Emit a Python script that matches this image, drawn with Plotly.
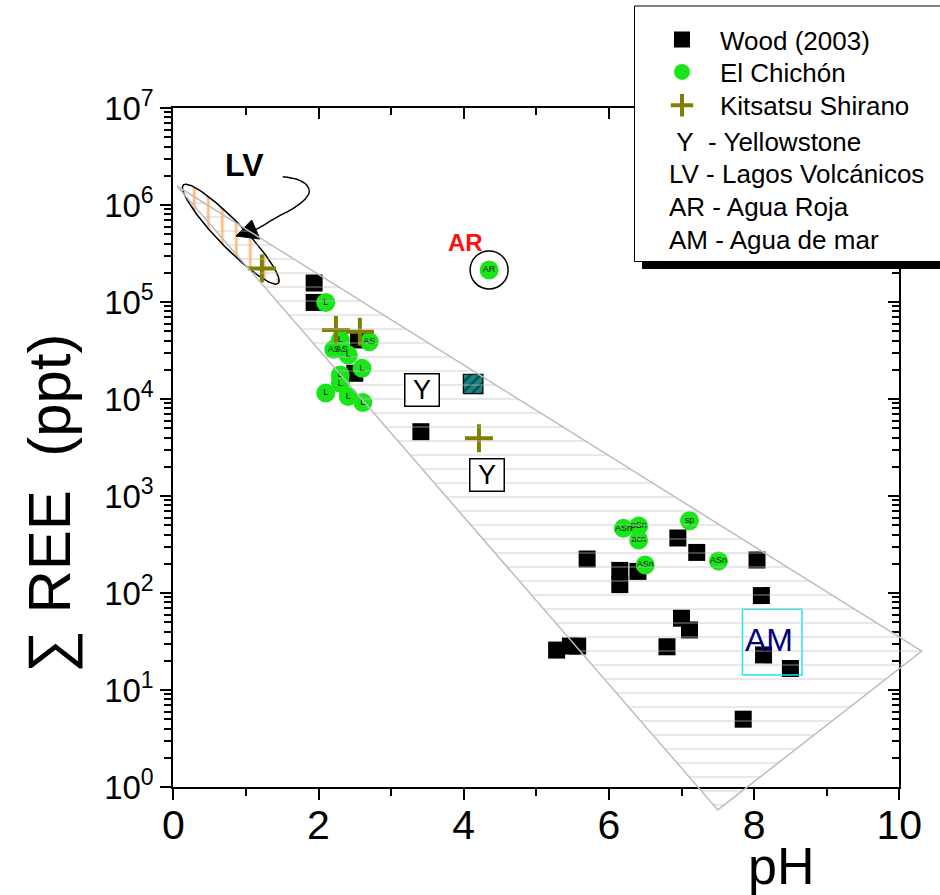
import numpy as np
import plotly.graph_objects as go

W, H = 940, 895
FONT = "Liberation Sans, Arial, sans-serif"

# ---------------- data ----------------
wood_ph = [1.94, 1.94, 2.55, 2.50, 3.41, 5.70, 6.15, 6.15, 6.40, 6.95, 7.21,
           8.04, 8.10, 7.00, 7.11, 6.80, 5.28, 5.47, 5.57, 8.13, 8.50, 7.85]
wood_ree = [1.57e5, 9.9e4, 4.06e4, 1.84e4, 4.6e3, 224, 171, 122, 167, 369, 262,
            219, 94, 55, 41.6, 27.9, 25.8, 28.4, 28.4, 23, 16.7, 5.0]

chichon_ph = [2.10, 2.30, 2.21, 2.32, 2.41, 2.70, 2.60, 2.30, 2.30, 2.10, 2.41, 2.61,
              6.20, 6.41, 6.41, 7.11, 6.50, 7.51, 4.35]
chichon_ree = [9.9e4, 4.06e4, 3.25e4, 3.25e4, 2.84e4, 3.9e4, 2.07e4, 1.77e4, 1.45e4,
               1.15e4, 1.06e4, 9.2e3, 464, 491, 352, 556, 194, 214, 2.14e5]
chichon_lbl = ["L", "L", "AS", "AS", "L", "AS", "L", "L", "L", "L", "L", "L",
               "ASn", "pSn", "acn", "sp", "ASn", "ASn", "AR"]

kitsatsu_ph = [1.22, 2.24, 2.57, 4.21]
kitsatsu_ree = [2.22e5, 5.15e4, 4.94e4, 3.94e3]

yellowstone_ph = [3.43, 4.32]
yellowstone_ree = [1.24e4, 1645]

agua_roja_ph = [4.35]
agua_roja_ree = [2.14e5]

teal_ph = [4.13]
teal_ree = [1.43e4]

# hatched field (pH, REE) vertices
field_ph = [0.05, 10.31, 7.50]
field_ree = [1.57e6, 25.2, 0.58]

# Lagos Volcanicos ellipse: centre (pH, log10 REE) and half-axis vectors
lv_center = (0.792, 5.699)
lv_major = (0.654, -0.507)
lv_minor = (0.128, 0.092)

# LV arrow curve (pH, log10 REE) and its head
lv_curve_ph = [1.507, 1.700, 1.837, 1.873, 1.814, 1.653, 1.424, 1.194, 1.136]
lv_curve_lg = [6.292, 6.265, 6.206, 6.137, 6.059, 5.966, 5.873, 5.770, 5.747]
lv_head_ph = [0.864, 1.080, 1.194]
lv_head_lg = [5.680, 5.845, 5.649]

# Agua de mar box (pH range, REE range) and label
am_ph = (7.84, 8.66)
am_ree = (14.3, 67.9)
am_label = (8.21, 32.7)

lv_label = (0.98, 2.57e6)
ar_label = (4.03, 4.09e5)

x_ticks = [0, 2, 4, 6, 8, 10]
y_exps = [0, 1, 2, 3, 4, 5, 6, 7]

legend_names = ["Wood (2003)", "El Chichón", "Kitsatsu Shirano"]
legend_text = ["\u00a0Y\u00a0\u00a0- Yellowstone", "LV - Lagos Volcánicos",
               "AR - Agua Roja", "AM - Agua de mar"]

# ---------------- layout geometry ----------------
XR, YR = [0, 10], [0, 7]
xd = [173.3 / W, 899.3 / W]
yd = [(H - 787) / H, (H - 108) / H]


def extend(r, d):
    span = (r[1] - r[0]) / (d[1] - d[0])
    return [r[0] - d[0] * span, r[1] + (1 - d[1]) * span]


x2r = extend(XR, xd)
y2r = extend(YR, yd)

fig = go.Figure()

# LV ellipse
t = np.linspace(0, 2 * np.pi, 240)
e_ph = lv_center[0] + lv_major[0] * np.cos(t) + lv_minor[0] * np.sin(t)
e_lg = lv_center[1] + lv_major[1] * np.cos(t) + lv_minor[1] * np.sin(t)
fig.add_trace(go.Scatter(
    x=e_ph, y=10 ** e_lg, mode="lines", fill="toself",
    fillcolor="rgba(0,0,0,0)",
    fillpattern=dict(shape="|", fgcolor="#FF7A00", bgcolor="rgba(0,0,0,0)",
                     size=14, solidity=0.2),
    line=dict(color="black", width=1.5), showlegend=False, hoverinfo="skip"))

# Wood squares
fig.add_trace(go.Scatter(
    x=wood_ph, y=wood_ree, mode="markers", name=legend_names[0],
    marker=dict(symbol="square", size=17, color="black", line=dict(width=0)),
    legend="legend"))

# teal hatched square
tx, ty = teal_ph[0], np.log10(teal_ree[0])
dxh, dyh = 0.135, 0.1
fig.add_trace(go.Scatter(
    x=[tx - dxh, tx + dxh, tx + dxh, tx - dxh, tx - dxh],
    y=10 ** np.array([ty - dyh, ty - dyh, ty + dyh, ty + dyh, ty - dyh]),
    mode="lines", fill="toself", fillcolor="#008080",
    fillpattern=dict(shape="/", fgcolor="black", bgcolor="#168484", size=7, solidity=0.3),
    line=dict(color="black", width=1.2), showlegend=False, hoverinfo="skip"))

# El Chichon circles
fig.add_trace(go.Scatter(
    x=chichon_ph, y=chichon_ree, mode="markers+text", name=legend_names[1],
    text=chichon_lbl, textposition="middle center",
    textfont=dict(family=FONT, size=9, color="#102010"),
    marker=dict(symbol="circle", size=19, color="#19E619", line=dict(width=0)),
    legend="legend2"))

# Kitsatsu crosses
fig.add_trace(go.Scatter(
    x=kitsatsu_ph, y=kitsatsu_ree, mode="markers", name=legend_names[2],
    marker=dict(symbol="cross-thin", size=20, color="#808000",
                line=dict(color="#808000", width=4)),
    legend="legend3"))

# Agua Roja ring
fig.add_trace(go.Scatter(
    x=agua_roja_ph, y=agua_roja_ree, mode="markers",
    marker=dict(symbol="circle-open", size=38, color="black", line=dict(color="black", width=1.5)),
    showlegend=False, hoverinfo="skip"))

# Agua de mar box
fig.add_trace(go.Scatter(
    x=[am_ph[0], am_ph[1], am_ph[1], am_ph[0], am_ph[0]],
    y=[am_ree[0], am_ree[0], am_ree[1], am_ree[1], am_ree[0]],
    mode="lines", line=dict(color="#1CE8F0", width=1.5),
    showlegend=False, hoverinfo="skip"))

# LV arrow
fig.add_trace(go.Scatter(
    x=lv_curve_ph, y=10 ** np.array(lv_curve_lg), mode="lines",
    line=dict(color="black", width=1.5, shape="spline", smoothing=1.0),
    showlegend=False, hoverinfo="skip"))
fig.add_trace(go.Scatter(
    x=lv_head_ph + [lv_head_ph[0]], y=10 ** np.array(lv_head_lg + [lv_head_lg[0]]),
    mode="lines", fill="toself", fillcolor="black", line=dict(color="black", width=1),
    showlegend=False, hoverinfo="skip"))

# mirror axes with inward ticks
fig.add_trace(go.Scatter(x=[None], y=[None], xaxis="x3", yaxis="y3",
                         showlegend=False, hoverinfo="skip"))

# hatched field on full-figure axes (so it can poke out of the frame)
fig.add_trace(go.Scatter(
    x=field_ph + [field_ph[0]], y=field_ree + [field_ree[0]], xaxis="x2", yaxis="y2",
    mode="lines", fill="toself", fillcolor="rgba(0,0,0,0)",
    fillpattern=dict(shape="-", fgcolor="#BDBDBD", bgcolor="rgba(0,0,0,0)",
                     size=14, solidity=0.1),
    line=dict(color="#BDBDBD", width=1.5), showlegend=False, hoverinfo="skip"))

axis_common = dict(showgrid=False, zeroline=False, showline=True, linecolor="black",
                   linewidth=2, tickcolor="black", tickwidth=1.5, automargin=False)

ann = []
ann.append(dict(x=lv_label[0], y=np.log10(lv_label[1]), xref="x", yref="y",
                text="<b>LV</b>", showarrow=False,
                font=dict(family=FONT, size=32, color="black")))
ann.append(dict(x=ar_label[0], y=np.log10(ar_label[1]), xref="x", yref="y",
                text="<b>AR</b>", showarrow=False,
                font=dict(family=FONT, size=24, color="#FF1010")))
for px_, py_ in zip(yellowstone_ph, yellowstone_ree):
    ann.append(dict(x=px_, y=np.log10(py_), xref="x", yref="y", text="Y",
                    showarrow=False, font=dict(family=FONT, size=27, color="black"),
                    bordercolor="black", borderwidth=1.5, borderpad=1,
                    bgcolor="white", width=31, height=29))
ann.append(dict(x=am_label[0], y=np.log10(am_label[1]), xref="x", yref="y", text="AM",
                showarrow=False, font=dict(family=FONT, size=32, color="#000080")))
ann.append(dict(x=781 / W, y=1 - 866 / H, xref="paper", yref="paper", text="pH",
                xanchor="center", yanchor="middle",
                showarrow=False, font=dict(family=FONT, size=52, color="black")))
ann.append(dict(x=49 / W, y=1 - 503 / H, xref="paper", yref="paper",
                text="\u2211 REE\u00a0\u00a0(ppt)", textangle=-90,
                xanchor="center", yanchor="middle",
                showarrow=False, font=dict(family=FONT, size=60, color="black")))
for txt, yc in zip(legend_text, [141.7, 174, 207.3, 240]):
    ann.append(dict(x=667 / W, y=1 - yc / H, xref="paper", yref="paper", text=txt,
                    xanchor="left", yanchor="middle", showarrow=False,
                    font=dict(family=FONT, size=26, color="black")))

shapes = [
    dict(type="rect", xref="paper", yref="paper", x0=642 / W, x1=955 / W,
         y0=1 - 269 / H, y1=1 - 14 / H, fillcolor="black", line=dict(width=0), layer="above"),
    dict(type="rect", xref="paper", yref="paper", x0=634.5 / W, x1=950 / W,
         y0=1 - 261.5 / H, y1=1 - 6 / H, fillcolor="white",
         line=dict(color="black", width=1), layer="above"),
]


def leg(yc):
    return dict(x=644 / W, y=1 - yc / H, xanchor="left", yanchor="middle",
                bgcolor="rgba(0,0,0,0)", borderwidth=0, itemwidth=66,
                font=dict(family=FONT, size=26, color="black"))


fig.update_layout(
    width=W, height=H, autosize=False,
    margin=dict(l=0, r=0, t=0, b=0, pad=0, autoexpand=False),
    paper_bgcolor="white", plot_bgcolor="rgba(0,0,0,0)",
    font=dict(family=FONT, color="black"),
    xaxis=dict(domain=xd, range=XR, anchor="y", ticks="outside", ticklen=11,
               tickvals=x_ticks, ticktext=[str(v) for v in x_ticks],
               tickfont=dict(family=FONT, size=41, color="black"),
               ticklabelstandoff=-10,
               minor=dict(ticks="outside", ticklen=7, tickwidth=1.5, tickcolor="black",
                          dtick=1, tick0=0, showgrid=False),
               **axis_common),
    yaxis=dict(domain=yd, type="log", range=YR, anchor="x", ticks="outside", ticklen=11,
               tickvals=[10 ** e for e in y_exps],
               ticktext=["10<sup>%d</sup>" % e for e in y_exps],
               tickfont=dict(family=FONT, size=33, color="black"),
               minor=dict(ticks="outside", ticklen=7, tickwidth=1.5, tickcolor="black",
                          dtick="D1", showgrid=False),
               **axis_common),
    xaxis3=dict(overlaying="x", side="top", anchor="y3", range=XR, ticks="inside",
                ticklen=11, tickvals=x_ticks, showticklabels=False,
                minor=dict(ticks="inside", ticklen=7, tickwidth=1.5, tickcolor="black",
                           dtick=1, tick0=0, showgrid=False),
                **axis_common),
    yaxis3=dict(overlaying="y", side="right", anchor="x3", type="log", range=YR,
                ticks="inside", ticklen=11, tickvals=[10 ** e for e in y_exps],
                showticklabels=False,
                minor=dict(ticks="inside", ticklen=7, tickwidth=1.5, tickcolor="black",
                           dtick="D1", showgrid=False),
                **axis_common),
    xaxis2=dict(domain=[0, 1], range=x2r, anchor="y2", visible=False, fixedrange=True,
                automargin=False),
    yaxis2=dict(domain=[0, 1], range=y2r, type="log", anchor="x2", visible=False,
                fixedrange=True, automargin=False),
    legend=leg(39.7), legend2=leg(72), legend3=leg(105.3),
    annotations=ann, shapes=shapes,
)

fig.write_html("out.html")
